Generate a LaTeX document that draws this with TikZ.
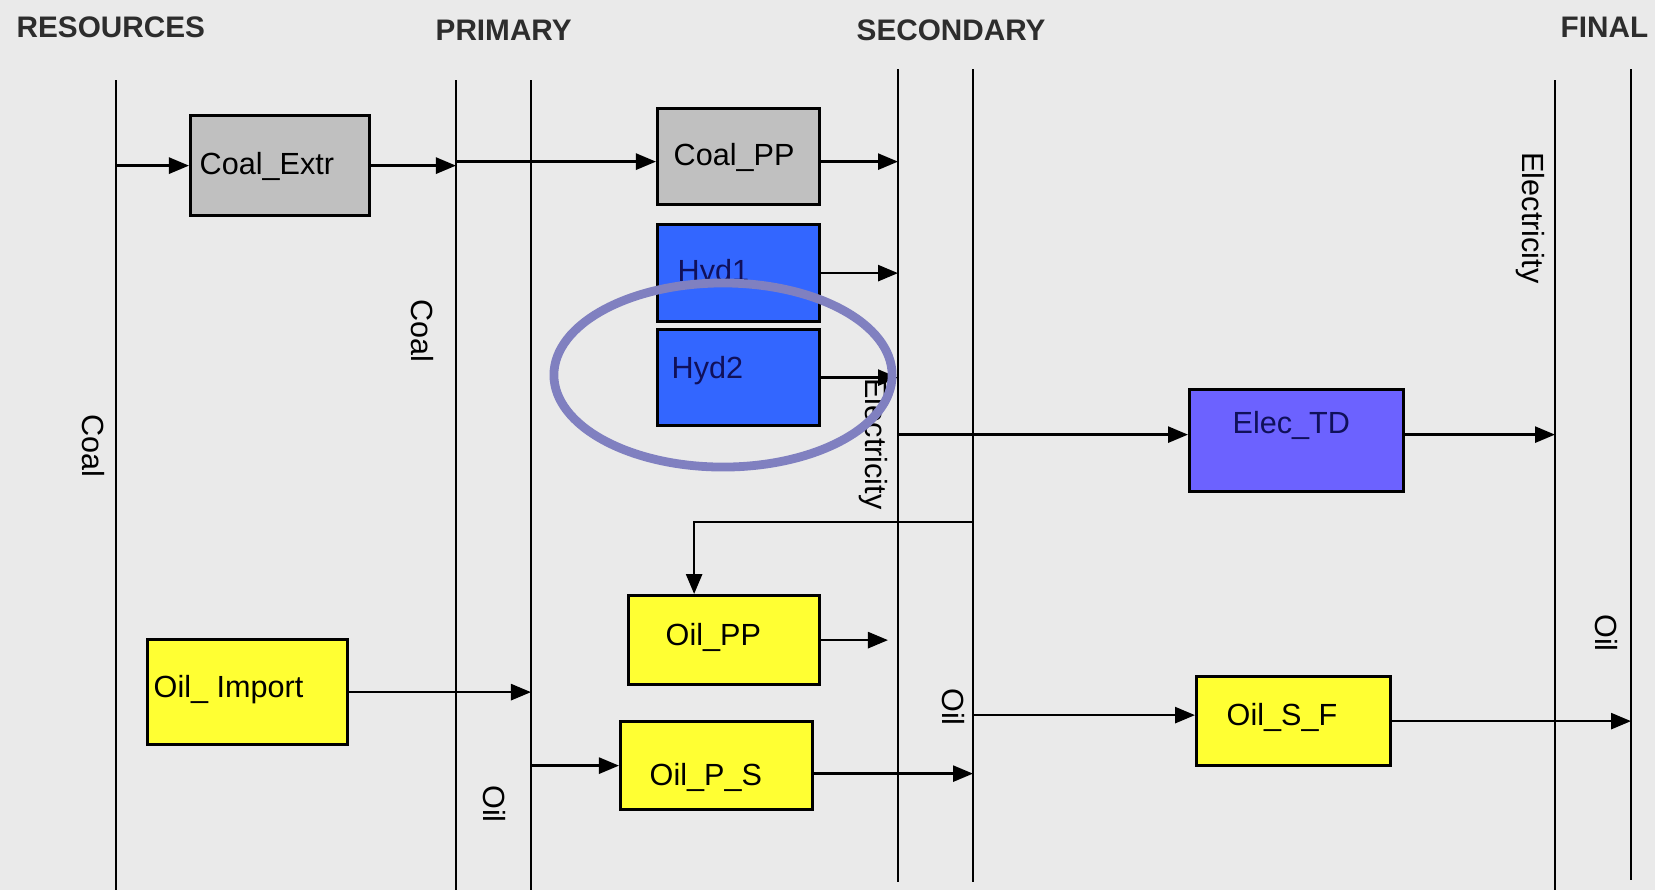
\documentclass[tikz,border=0pt]{standalone}
\usepackage{fontspec}
\setmainfont{Liberation Sans}
\usetikzlibrary{arrows.meta}

\definecolor{bgcol}{RGB}{234,234,234}
\definecolor{boxgray}{RGB}{192,192,192}
\definecolor{hydblue}{RGB}{51,102,255}
\definecolor{tdblue}{RGB}{108,98,255}
\definecolor{oilyellow}{RGB}{255,255,51}
\definecolor{ringcol}{RGB}{128,128,192}
\definecolor{headcol}{RGB}{45,45,45}
\definecolor{hydtext}{RGB}{16,16,90}

\tikzset{
  bus/.style={draw,line width=0.75pt},
  flow/.style={draw,line width=0.75pt,-{Triangle[length=0.2cm,width=0.16cm]}},
  proc/.style={draw,line width=0.9pt,anchor=north west,inner sep=0pt},
  lbl/.style={anchor=west,inner sep=0pt,text height=0.22cm,text depth=0cm},
  head/.style={anchor=west,inner sep=0pt,text=headcol,font=\bfseries\fontsize{8.45}{10}\selectfont},
  carrier/.style={rotate=-90,inner sep=0pt}
}

\begin{document}
\begin{tikzpicture}[x=0.01cm,y=-0.01cm,font=\fontsize{8.7}{10}\selectfont]
  \fill[bgcol] (0,0) rectangle (1655,890);
  \useasboundingbox (0,0) rectangle (1655,890);

  % Headings
  \node[head] (hres) at (16,27) {RESOURCES};
  \node[head] (hpri) at (435,30) {PRIMARY};
  \node[head] (hsec) at (856,30) {SECONDARY};
  \node[head] (hfin) at (1560,27) {FINAL};

  % Buses
  \coordinate (resT) at (116,80);    \coordinate (resB) at (116,890);
  \coordinate (coalT) at (456,80);   \coordinate (coalB) at (456,890);
  \coordinate (oilT) at (531,80);    \coordinate (oilB) at (531,890);
  \coordinate (elecT) at (898,69);   \coordinate (elecB) at (898,882);
  \coordinate (oilST) at (973,69);   \coordinate (oilSB) at (973,882);
  \coordinate (elecFT) at (1555,80); \coordinate (elecFB) at (1555,890);
  \coordinate (oilFT) at (1631,69);  \coordinate (oilFB) at (1631,880);
  \path[bus] (resT) -- (resB);
  \path[bus] (coalT) -- (coalB);
  \path[bus] (oilT) -- (oilB);
  \path[bus] (elecT) -- (elecB);
  \path[bus] (oilST) -- (oilSB);
  \path[bus] (elecFT) -- (elecFB);
  \path[bus] (oilFT) -- (oilFB);

  % Carrier labels
  \node[carrier] (lcoalr) at (93,446) {Coal};
  \node[carrier] (lcoalp) at (422,331) {Coal};
  \node[carrier] (loilp) at (494,804) {Oil};
  \node[carrier] (lelecs) at (873,444) {Electricity};
  \node[carrier] (loils) at (953,707) {Oil};
  \node[carrier] (lelecf) at (1530,218) {Electricity};
  \node[carrier] (loilf) at (1606,633) {Oil};

  % Processes
  \node[proc,fill=boxgray,minimum width=1.79cm,minimum height=1cm] (cex) at (189,114) {};
  \node[proc,fill=boxgray,minimum width=1.62cm,minimum height=0.96cm] (cpp) at (656,107) {};
  \node[proc,fill=hydblue,minimum width=1.62cm,minimum height=0.97cm] (hyd1) at (656,223) {};
  \node[proc,fill=hydblue,minimum width=1.62cm,minimum height=0.96cm] (hyd2) at (656,328) {};
  \node[proc,fill=tdblue,minimum width=2.14cm,minimum height=1.02cm] (etd) at (1188,388) {};
  \node[proc,fill=oilyellow,minimum width=2cm,minimum height=1.05cm] (oimp) at (146,638) {};
  \node[proc,fill=oilyellow,minimum width=1.91cm,minimum height=0.89cm] (opp) at (627,594) {};
  \node[proc,fill=oilyellow,minimum width=1.92cm,minimum height=0.88cm] (ops) at (619,720) {};
  \node[proc,fill=oilyellow,minimum width=1.94cm,minimum height=0.89cm] (osf) at (1195,675) {};

  \node[lbl] (cext) at (199,163) {Coal\_Extr};
  \node[lbl] (cppt) at (673,154) {Coal\_PP};
  \node[lbl,text=hydtext] (hyd1t) at (677,270) {Hyd1};
  \node[lbl,text=hydtext] (hyd2t) at (671,367) {Hyd2};
  \node[lbl,text=hydtext] (etdt) at (1232,422) {Elec\_TD};
  \node[lbl] (oimpt) at (153,686) {Oil\_ Import};
  \node[lbl] (oppt) at (665,634) {Oil\_PP};
  \node[lbl] (opst) at (649,774) {Oil\_P\_S};
  \node[lbl] (osft) at (1226,714) {Oil\_S\_F};

  % Flows
  \coordinate (cppin) at ([yshift=-0.05cm]cpp.west);
  \coordinate (cppout) at ([yshift=-0.05cm]cpp.east);
  \coordinate (etdin) at ([yshift=0.06cm]etd.west);
  \coordinate (etdout) at ([yshift=0.06cm]etd.east);
  \coordinate (opsout) at ([yshift=-0.08cm]ops.east);
  \coordinate (osfin) at ([yshift=0.06cm]osf.west);
  \coordinate (oiltap) at (973,522);
  \path[flow] (cex.west -| resT) -- (cex.west);
  \path[flow] (cex.east) -- (cex.east -| coalT);
  \path[flow] (cppin -| coalT) -- (cppin);
  \path[flow] (cppout) -- (cppout -| elecT);
  \path[flow] (hyd1.east) -- (hyd1.east -| elecT);
  \path[flow] (hyd2.east) -- (hyd2.east -| elecT);
  \path[flow] (etdin -| elecT) -- (etdin);
  \path[flow] (etdout) -- (etdout -| elecFT);
  \path[flow] (oiltap) -| ([xshift=-0.3cm]opp.north);
  \path[flow] (opp.east) -- ([xshift=-0.1cm]elecT |- opp.east);
  \path[flow] (oimp.east) -- (oimp.east -| oilT);
  \path[flow] (ops.west -| oilT) -- (ops.west);
  \path[flow] (opsout) -- (opsout -| oilST);
  \path[flow] (osfin -| oilST) -- (osfin);
  \path[flow] (osf.east) -- (osf.east -| oilFT);

  % Highlight
  \draw[ringcol,line width=2.5pt] (723,375) ellipse [x radius=1.69cm,y radius=0.92cm];
\end{tikzpicture}
\end{document}
